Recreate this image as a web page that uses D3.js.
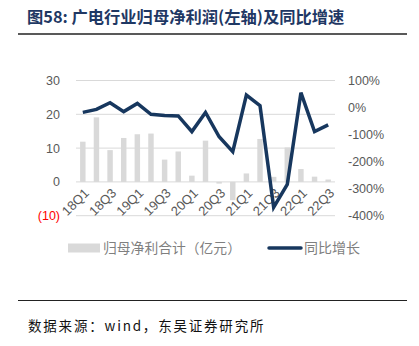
<!DOCTYPE html>
<html>
<head>
<meta charset="utf-8">
<script src="https://cdn.jsdelivr.net/npm/d3@7/dist/d3.min.js"></script>
<style>
  html, body { margin: 0; padding: 0; background: #fff; }
  svg { display: block; }
</style>
</head>
<body>
<svg id="chart" width="419" height="346"></svg>
<script>
// Quarterly net profit attributable to parent (亿元) and YoY growth (%)
const quarters = ["18Q1","18Q2","18Q3","18Q4","19Q1","19Q2","19Q3","19Q4","20Q1","20Q2",
                  "20Q3","20Q4","21Q1","21Q2","21Q3","21Q4","22Q1","22Q2","22Q3"];
const profit = [11.9, 19.1, 9.4, 13.0, 14.1, 14.3, 6.6, 9.0, 1.85, 12.2,
                -0.5, -5.4, 2.5, 12.7, 1.5, 10.2, 3.8, 1.55, 0.7];
const growth = [-18, -7, 18, -15, 15, -25, -29, -31, -89, -18,
                -108, -163, 46, 7, -369, -284, 55, -89, -64];
const leftTicks = [-10, 0, 10, 20, 30];
const rightTicks = [-400, -300, -200, -100, 0, 100];
const xLabelEvery = 2;

const svg = d3.select("#chart");
const plot = { left: 76, right: 335, top: 80.5, bottom: 215.7 };
const axisFont = "'Liberation Sans', Arial, sans-serif";
const cjkFont = "'Noto Sans CJK SC', sans-serif";

// Title and rule under it
svg.append("text")
  .attr("x", 27).attr("y", 23)
  .attr("font-family", cjkFont)
  .attr("font-size", 16.3).attr("font-weight", "bold")
  .attr("fill", "#1f3864")
  .text("图58:  广电行业归母净利润(左轴)及同比增速");
svg.append("line")
  .attr("x1", 18).attr("x2", 407).attr("y1", 34).attr("y2", 34)
  .attr("stroke", "#222").attr("stroke-width", 1.6);

// Scales
const x = d3.scaleBand().domain(quarters).range([plot.left, plot.right]).paddingInner(0.6).paddingOuter(0.3);
const xc = d => x(d) + x.bandwidth() / 2;
const yL = d3.scaleLinear().domain([-10, 30]).range([plot.bottom, plot.top]);
const yR = d3.scaleLinear().domain([-400, 100]).range([plot.bottom, plot.top]);

// Gridlines follow the left axis
svg.append("g").selectAll("line").data(leftTicks).join("line")
  .attr("x1", plot.left).attr("x2", plot.right)
  .attr("y1", d => yL(d)).attr("y2", d => yL(d))
  .attr("stroke", "#d9d9d9").attr("stroke-width", 1);

// Left axis labels; negatives shown in red with parentheses
const leftAxis = d3.axisLeft(yL).tickValues(leftTicks).tickSize(0).tickPadding(16)
  .tickFormat(d => d < 0 ? `(${Math.abs(d)})` : d);
const gL = svg.append("g").attr("transform", `translate(${plot.left},0)`).call(leftAxis);
gL.select(".domain").remove();
gL.selectAll("text")
  .attr("font-family", axisFont).attr("font-size", 12.5)
  .attr("fill", d => d < 0 ? "#ff0000" : "#595959");

// Right axis labels
const rightAxis = d3.axisRight(yR).tickValues(rightTicks).tickSize(0).tickPadding(13)
  .tickFormat(d => d + "%");
const gR = svg.append("g").attr("transform", `translate(${plot.right},0)`).call(rightAxis);
gR.select(".domain").remove();
gR.selectAll("text")
  .attr("font-family", axisFont).attr("font-size", 12.5).attr("fill", "#595959");

// Bars
svg.append("g").selectAll("rect").data(quarters).join("rect")
  .attr("x", d => x(d))
  .attr("width", x.bandwidth())
  .attr("y", (d, i) => yL(Math.max(0, profit[i])))
  .attr("height", (d, i) => Math.abs(yL(profit[i]) - yL(0)))
  .attr("fill", "#d9d9d9");

// X axis labels, rotated
const xAxis = d3.axisBottom(x).tickSize(0).tickPadding(0)
  .tickValues(quarters.filter((d, i) => i % xLabelEvery === 0));
const gX = svg.append("g").attr("transform", `translate(0,${yL(0)})`).call(xAxis);
gX.select(".domain").remove();
gX.selectAll("text")
  .attr("font-family", axisFont).attr("font-size", 13).attr("fill", "#595959")
  .attr("text-anchor", "end")
  .attr("dy", 0)
  .attr("transform", "translate(7,12) rotate(-45)");

// Growth line
const line = d3.line().x((d, i) => xc(quarters[i])).y(d => yR(d));
svg.append("path").datum(growth)
  .attr("d", line)
  .attr("fill", "none")
  .attr("stroke", "#17375e")
  .attr("stroke-width", 3.5)
  .attr("stroke-linejoin", "miter");

// Legend
const lg = svg.append("g");
lg.append("rect").attr("x", 68).attr("y", 243.5).attr("width", 32).attr("height", 9).attr("fill", "#d9d9d9");
lg.append("text").attr("x", 103).attr("y", 253)
  .attr("font-family", cjkFont).attr("font-size", 13.8).attr("fill", "#7f7f7f")
  .text("归母净利合计（亿元）");
lg.append("line").attr("x1", 269).attr("x2", 301).attr("y1", 248).attr("y2", 248)
  .attr("stroke", "#17375e").attr("stroke-width", 3.5).attr("stroke-linecap", "round");
lg.append("text").attr("x", 304).attr("y", 253)
  .attr("font-family", cjkFont).attr("font-size", 14).attr("fill", "#7f7f7f")
  .text("同比增长");

// Bottom rule and source note
svg.append("line")
  .attr("x1", 18).attr("x2", 407).attr("y1", 300.5).attr("y2", 300.5)
  .attr("stroke", "#222").attr("stroke-width", 1.2);
svg.append("text")
  .attr("x", 28).attr("y", 331)
  .attr("font-family", cjkFont).attr("font-size", 13.5).attr("fill", "#111")
  .attr("letter-spacing", 1.8)
  .text("数据来源：wind，东吴证券研究所");
</script>
</body>
</html>
